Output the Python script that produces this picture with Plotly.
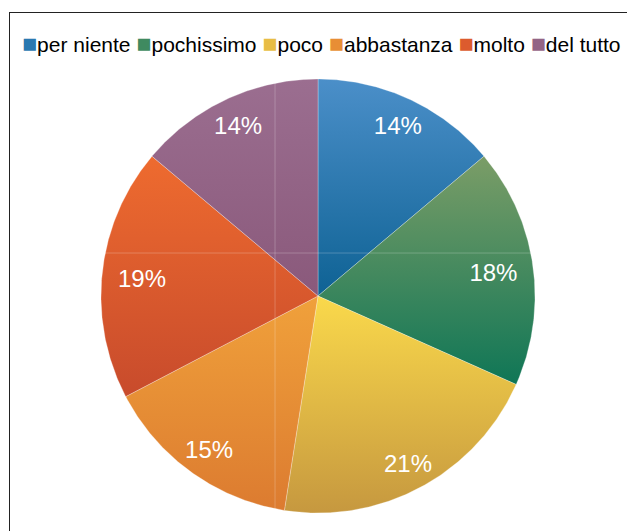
import math
import plotly.graph_objects as go

# Survey answers: share of respondents per level of agreement
labels = ["per niente", "pochissimo", "poco", "abbastanza", "molto", "del tutto"]
values = [14, 18, 21, 15, 19, 14]

# Vertical gradient per slice: (top colour, bottom colour)
top_colors = ["#4b8fc9", "#7b9d67", "#fad94b", "#f0a13b", "#ee6b2f", "#9b6e90"]
bottom_colors = ["#0e6294", "#0f7656", "#c6983f", "#dc7b30", "#c84b2c", "#8a597b"]
legend_colors = ["#2a78b0", "#3f8a60", "#e8bd45", "#e88e35", "#dc5b2e", "#936485"]

total = sum(values)
fig = go.Figure()

# Slices: wedges on an equal-aspect unit circle, clockwise from 12 o'clock
start = 0.0
mids = []
for lab, v, ct, cb in zip(labels, values, top_colors, bottom_colors):
    a0 = start / total * 2 * math.pi
    a1 = (start + v) / total * 2 * math.pi
    n = 160
    xs = [0.0]
    ys = [0.0]
    for k in range(n + 1):
        a = a0 + (a1 - a0) * k / n
        xs.append(math.sin(a))
        ys.append(math.cos(a))
    xs.append(0.0)
    ys.append(0.0)
    fig.add_trace(go.Scatter(
        x=xs, y=ys, mode="lines", fill="toself", name=lab,
        line=dict(color="rgba(255,255,255,0.35)", width=0.8),
        fillgradient=dict(type="vertical", colorscale=[[0, cb], [1, ct]]),
        hoverinfo="name", showlegend=False,
    ))
    mids.append((a0 + a1) / 2)
    start += v

# Percentage labels inside each slice; pulled in a little on the sides so the
# text box stays clear of the rim
lab_r = [0.885 - 0.07 * math.sin(m) ** 2 for m in mids]
fig.add_trace(go.Scatter(
    x=[r * math.sin(m) for r, m in zip(lab_r, mids)],
    y=[r * math.cos(m) - 0.018 for r, m in zip(lab_r, mids)],
    mode="text",
    text=[f"{round(100 * v / total)}%" for v in values],
    textfont=dict(family="Liberation Sans, Arial, sans-serif", size=24, color="white"),
    hoverinfo="skip", showlegend=False,
))

W, H = 627, 531
cx, cy, R = 318, 296, 217

# Legend row: coloured square followed by the category name
legend_text = " ".join(
    f"<span style='color:{c};font-size:25px'>■</span>{lab}"
    for lab, c in zip(labels, legend_colors)
)

fig.update_layout(
    width=W, height=H,
    margin=dict(l=0, r=0, t=0, b=0),
    paper_bgcolor="white", plot_bgcolor="white",
    showlegend=False,
    xaxis=dict(domain=[(cx - R) / W, (cx + R) / W], range=[-1, 1],
               visible=False, fixedrange=True),
    yaxis=dict(domain=[(H - cy - R) / H, (H - cy + R) / H], range=[-1, 1],
               visible=False, fixedrange=True),
    annotations=[dict(
        text=legend_text, xref="paper", yref="paper",
        x=20 / W, y=1 - 43 / H, xanchor="left", yanchor="middle",
        showarrow=False,
        font=dict(family="Liberation Sans, Arial, sans-serif", size=21, color="black"),
    )],
    shapes=[
        # frame (top and left edges)
        dict(type="line", xref="paper", yref="paper", x0=9 / W, x1=1, y0=1 - 12.5 / H,
             y1=1 - 12.5 / H, line=dict(color="#222222", width=1)),
        dict(type="line", xref="paper", yref="paper", x0=9.5 / W, x1=9.5 / W, y0=0,
             y1=1 - 12 / H, line=dict(color="#222222", width=1)),
        # faint guide lines across the pie
        dict(type="line", xref="x", yref="y", x0=-0.198, x1=-0.198, y0=-1, y1=1,
             layer="above", line=dict(color="rgba(255,255,255,0.22)", width=1)),
        dict(type="line", xref="x", yref="y", x0=-1, x1=1, y0=0.198, y1=0.198,
             layer="above", line=dict(color="rgba(255,255,255,0.22)", width=1)),
    ],
)

fig.write_html("out.html")
